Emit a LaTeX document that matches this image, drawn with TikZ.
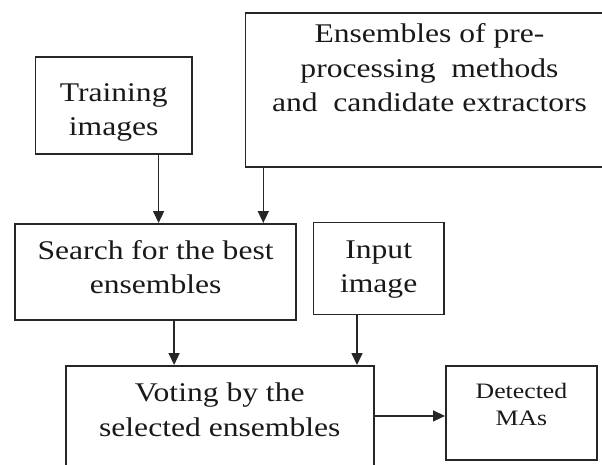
\documentclass[tikz,border=0pt]{standalone}
\usepackage{fontspec}
\setmainfont{Liberation Serif}[FakeStretch=1.17]
\usetikzlibrary{arrows.meta}

\begin{document}
\begin{tikzpicture}[x=1pt, y=-1pt,
    box/.style={draw=black!85, line width=1.9pt, anchor=north west, inner sep=0pt},
    txt/.style={anchor=north, align=center, inner sep=0pt, text=black!90,
      font=\fontsize{27}{34.5}\selectfont},
    arr/.style={draw=black!85, line width=1.6pt, -{Triangle[length=12pt,width=11pt]}}]
  \useasboundingbox (0,0) rectangle (602,464);
  % Boxes
  \node[box, minimum width=156.5pt, minimum height=97pt] (train) at (34.5,56) {};
  \node[box, minimum width=368pt, minimum height=153.4pt] (ens) at (244.5,12.3) {};
  \node[box, minimum width=280.7pt, minimum height=96pt] (search) at (14.3,223) {};
  \node[box, minimum width=130.5pt, minimum height=92pt] (input) at (312.5,221.5) {};
  \node[box, minimum width=307.6pt, minimum height=115pt] (vote) at (65,365) {};
  \node[box, minimum width=151pt, minimum height=94pt] (detect) at (445,365) {};
  % Texts
  \node[txt] (traintxt) at ([yshift=-27pt]train.north) {Training\\images};
  \node[txt] (enstxt) at ([yshift=-11pt]ens.north) {Ensembles of pre-\\processing\ \ methods\\and\ \ candidate extractors};
  \node[txt] (searchtxt) at ([yshift=-17pt]search.north) {Search for the best\\ensembles};
  \node[txt] (inputtxt) at ([yshift=-19pt]input.north) {Input\\image};
  \node[txt] (votetxt) at ([yshift=-18pt]vote.north) {Voting by the\\selected ensembles};
  \node[txt, font=\fontsize{22}{27.5}\selectfont] (detecttxt) at ([yshift=-18pt]detect.north) {Detected\\MAs};
  % Arrows
  \draw[arr] ([xshift=-34.3pt]train.south east) -- ([xshift=-34.3pt]train.south east |- search.north);
  \draw[arr] ([xshift=18.8pt]ens.south west) -- ([xshift=18.8pt]ens.south west |- search.north);
  \draw[arr] ([xshift=18.5pt]search.south) -- ([xshift=18.5pt]search.south |- vote.north);
  \draw[arr] ([xshift=-21.7pt]input.south) -- ([xshift=-21.7pt]input.south |- vote.north);
  \draw[arr] ([yshift=-3pt]detect.west -| vote.east) -- ([yshift=-3pt]detect.west);
\end{tikzpicture}
\end{document}
